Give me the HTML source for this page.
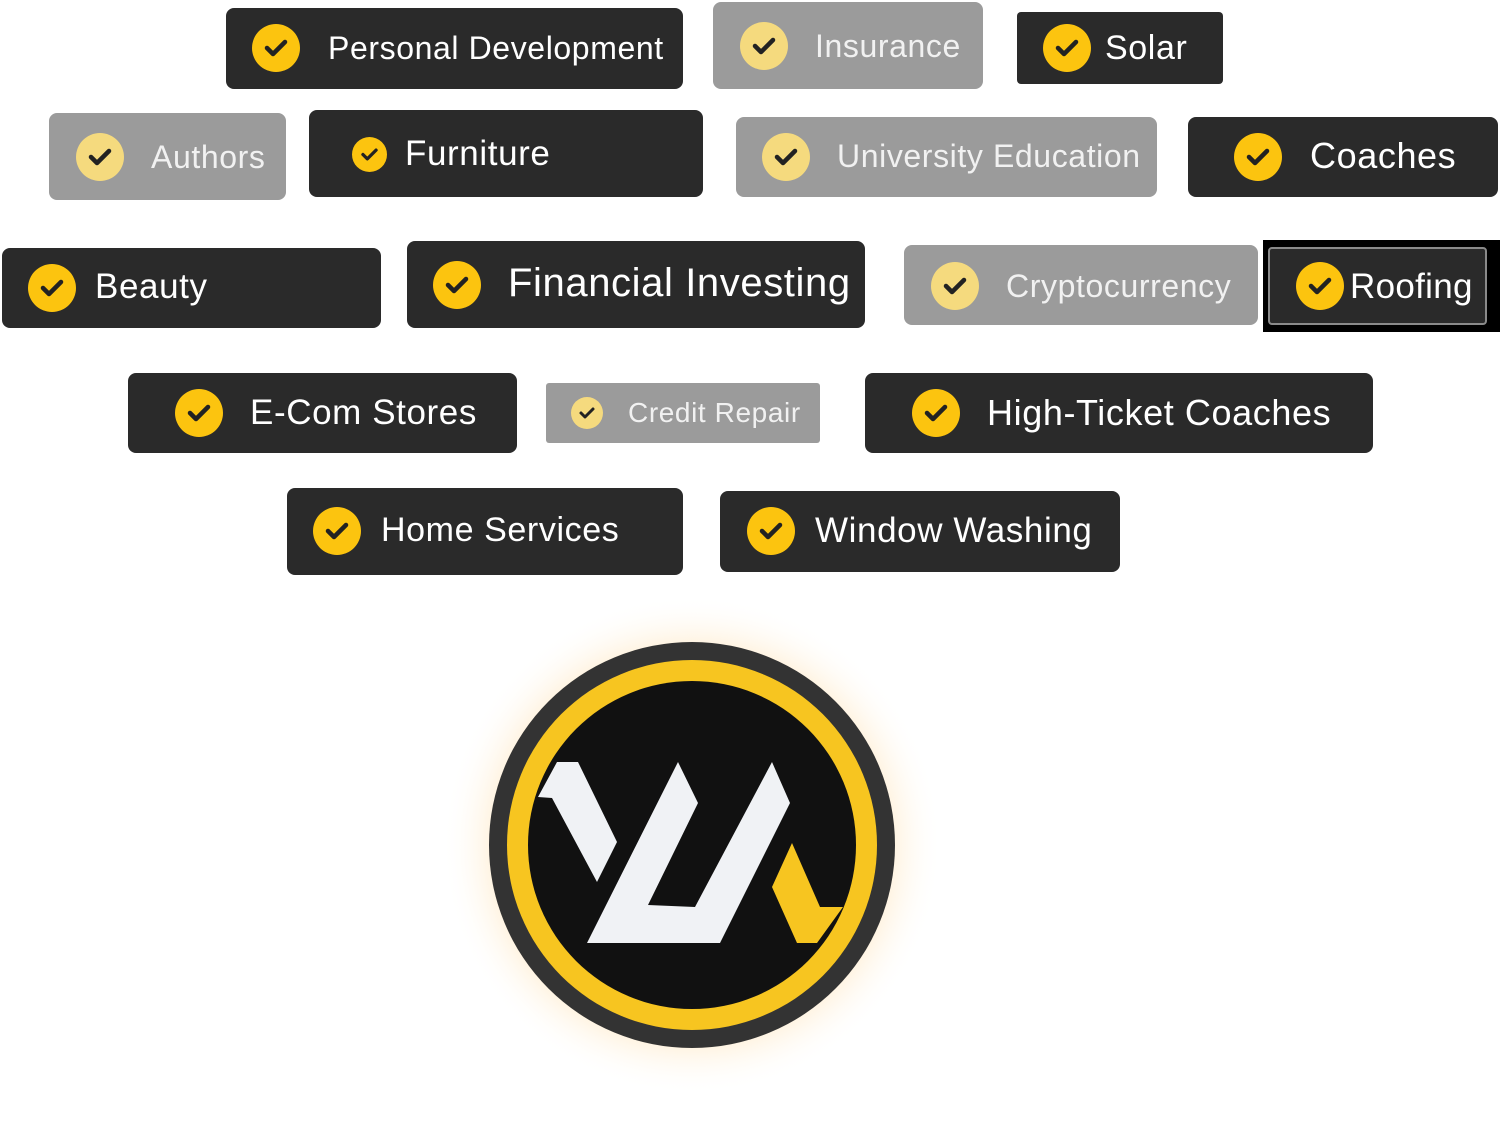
<!DOCTYPE html>
<html><head><meta charset="utf-8"><style>
body{margin:0;width:1500px;height:1127px;background:#fff;position:relative;overflow:hidden;font-family:"Liberation Sans",sans-serif}
.p{position:absolute;background:#2a2a2a;border-radius:8px;box-sizing:border-box}
.g{background:#9b9b9b}
.c{position:absolute;border-radius:50%;background:#fcc40f}
.g .c{background:#f5da7e}
.c svg{position:absolute;left:0;top:0;width:100%;height:100%}
.g .c svg path{stroke:#d9c27a}
.t{position:absolute;color:#fff;white-space:nowrap;line-height:1;letter-spacing:0.6px}
.g .t{color:#f1f1f1}
</style></head><body>
<svg width="0" height="0" style="position:absolute"><defs><symbol id="ck" viewBox="0 0 48 48"><path d="M15 24 L21 30 L33 18" fill="none" stroke="#222" stroke-width="4.5" stroke-linecap="round" stroke-linejoin="round"/></symbol></defs></svg>

<div class="p" style="left:226px;top:8px;width:457px;height:81px"><div class="c" style="left:26px;top:16px;width:48px;height:48px"><svg><use href="#ck"/></svg></div><div class="t" style="left:102px;top:24px;font-size:32px">Personal Development</div></div>
<div class="p g" style="left:713px;top:2px;width:270px;height:87px"><div class="c" style="left:27px;top:20px;width:48px;height:48px"><svg><use href="#ck"/></svg></div><div class="t" style="left:102px;top:28px;font-size:32px">Insurance</div></div>
<div class="p" style="left:1017px;top:12px;width:206px;height:72px;border-radius:4px"><div class="c" style="left:26px;top:12px;width:48px;height:48px"><svg><use href="#ck"/></svg></div><div class="t" style="left:88px;top:19px;font-size:34px">Solar</div></div>

<div class="p g" style="left:49px;top:113px;width:237px;height:87px"><div class="c" style="left:27px;top:20px;width:48px;height:48px"><svg><use href="#ck"/></svg></div><div class="t" style="left:102px;top:28px;font-size:32px">Authors</div></div>
<div class="p" style="left:309px;top:110px;width:394px;height:87px"><div class="c" style="left:43px;top:27px;width:35px;height:35px"><svg><use href="#ck"/></svg></div><div class="t" style="left:96px;top:26px;font-size:35px">Furniture</div></div>
<div class="p g" style="left:736px;top:117px;width:421px;height:80px"><div class="c" style="left:26px;top:16px;width:48px;height:48px"><svg><use href="#ck"/></svg></div><div class="t" style="left:101px;top:23px;font-size:32px">University Education</div></div>
<div class="p" style="left:1188px;top:117px;width:310px;height:80px"><div class="c" style="left:46px;top:16px;width:48px;height:48px"><svg><use href="#ck"/></svg></div><div class="t" style="left:122px;top:21px;font-size:36px">Coaches</div></div>

<div class="p" style="left:2px;top:248px;width:379px;height:80px"><div class="c" style="left:26px;top:16px;width:48px;height:48px"><svg><use href="#ck"/></svg></div><div class="t" style="left:93px;top:21px;font-size:35px">Beauty</div></div>
<div class="p" style="left:407px;top:241px;width:458px;height:87px"><div class="c" style="left:26px;top:20px;width:48px;height:48px"><svg><use href="#ck"/></svg></div><div class="t" style="left:101px;top:22px;font-size:40px">Financial Investing</div></div>
<div class="p g" style="left:904px;top:245px;width:354px;height:80px"><div class="c" style="left:27px;top:17px;width:48px;height:48px"><svg><use href="#ck"/></svg></div><div class="t" style="left:102px;top:25px;font-size:32px">Cryptocurrency</div></div>
<div style="position:absolute;left:1263px;top:240px;width:237px;height:92px;background:#000"></div>
<div class="p" style="left:1268px;top:247px;width:219px;height:78px;border:2px solid #8a8a8a;border-radius:4px"><div class="c" style="left:26px;top:13px;width:48px;height:48px"><svg><use href="#ck"/></svg></div><div class="t" style="left:80px;top:20px;font-size:35px;letter-spacing:0.3px">Roofing</div></div>

<div class="p" style="left:128px;top:373px;width:389px;height:80px"><div class="c" style="left:47px;top:16px;width:48px;height:48px"><svg><use href="#ck"/></svg></div><div class="t" style="left:122px;top:22px;font-size:35px">E-Com Stores</div></div>
<div class="p g" style="left:546px;top:383px;width:274px;height:60px;border-radius:3px"><div class="c" style="left:25px;top:14px;width:32px;height:32px"><svg><use href="#ck"/></svg></div><div class="t" style="left:82px;top:16px;font-size:28px">Credit Repair</div></div>
<div class="p" style="left:865px;top:373px;width:508px;height:80px"><div class="c" style="left:47px;top:16px;width:48px;height:48px"><svg><use href="#ck"/></svg></div><div class="t" style="left:122px;top:22px;font-size:36px">High-Ticket Coaches</div></div>

<div class="p" style="left:287px;top:488px;width:396px;height:87px"><div class="c" style="left:26px;top:19px;width:48px;height:48px"><svg><use href="#ck"/></svg></div><div class="t" style="left:94px;top:25px;font-size:34px">Home Services</div></div>
<div class="p" style="left:720px;top:491px;width:400px;height:81px"><div class="c" style="left:27px;top:16px;width:48px;height:48px"><svg><use href="#ck"/></svg></div><div class="t" style="left:95px;top:22px;font-size:35px">Window Washing</div></div>

<svg style="position:absolute;left:0;top:0" width="1500" height="1127">
<defs><radialGradient id="gl"><stop offset="0.8" stop-color="#fff3e0"/><stop offset="1" stop-color="#fff" stop-opacity="0"/></radialGradient></defs>
<circle cx="692" cy="845" r="250" fill="url(#gl)"/>
<circle cx="692" cy="845" r="203" fill="#333"/>
<circle cx="692" cy="845" r="185" fill="#f7c520"/>
<circle cx="692" cy="845" r="164" fill="#111"/>
<polygon points="557,762 578,762 617,842 597,882 552,798 538,797" fill="#f0f2f5"/>
<polygon points="587,943 678,762 698,803 648,905 695,907 772,762 790,803 720,943" fill="#f0f2f5"/>
<polygon points="792,843 820,907 843,907 817,943 797,943 772,887" fill="#f7c520"/>
</svg>
</body></html>
